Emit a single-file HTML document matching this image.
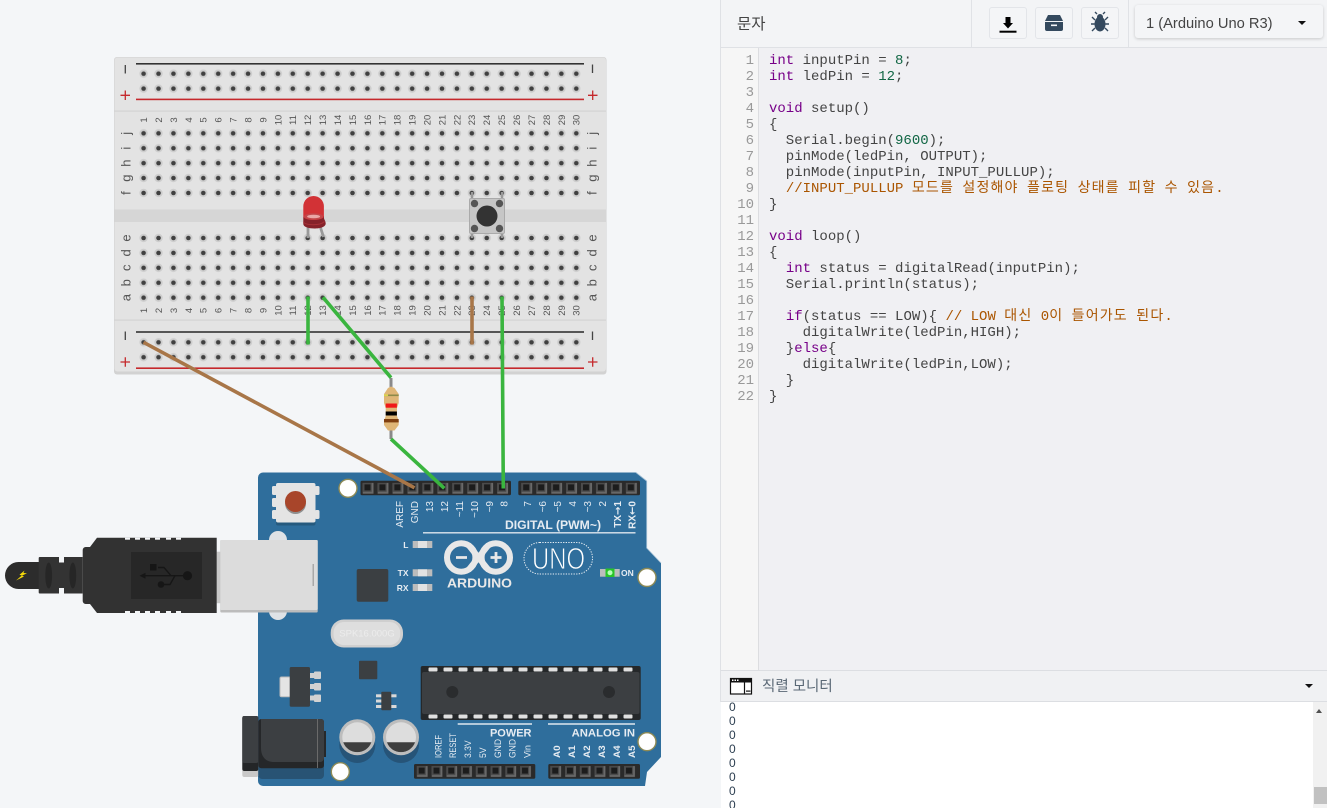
<!DOCTYPE html>
<html lang="ko">
<head>
<meta charset="utf-8">
<title>Arduino Uno circuit</title>
<style>
html,body{margin:0;padding:0;width:1327px;height:808px;overflow:hidden;background:#f4f6f8}
body{position:relative;font-family:"Liberation Sans","Noto Sans CJK KR",sans-serif}
#c{position:absolute;left:0;top:0}
.a{position:absolute;box-sizing:border-box}
pre{margin:0;font:14px/16px "Liberation Mono","WenQuanYi Zen Hei",monospace;color:#444}
.k{color:#708}.n{color:#164}.m{color:#a50}
.h{letter-spacing:1.17px}
.btn{top:7px;height:32px;background:#f4f5f7;border:1px solid #e3e5e9;border-radius:3px}
.bb text{font-size:9.5px;fill:#555;text-anchor:middle}
.lt text{font-size:13px;fill:#555;text-anchor:middle}
.wl text{font-size:10px;fill:#e6ecf2;text-anchor:end}
.wb text{font-size:9.5px;fill:#e6ecf2;text-anchor:start}
</style>
</head>
<body>
<svg id="c" width="720" height="808" viewBox="0 0 720 808" xmlns="http://www.w3.org/2000/svg">
<defs>
<pattern id="h" patternUnits="userSpaceOnUse" width="14.92" height="14.92">
<circle cx="7.46" cy="7.46" r="4.2" fill="#cdcdcd"/>
<circle cx="7.46" cy="7.46" r="2.3" fill="#404040"/>
</pattern>
<pattern id="s" patternUnits="userSpaceOnUse" width="14.95" height="14.7">
<rect x="2.2" y="2" width="10.8" height="10.8" fill="#6a6a6a"/>
<rect x="2.2" y="2" width="9" height="9" fill="#4a4a4a"/>
<rect x="4" y="3.5" width="6" height="6" fill="#1c1c1c"/>
</pattern>
</defs>

<!-- breadboard -->
<rect x="114" y="57" width="492.5" height="317.5" rx="3" fill="#d2d2d2"/>
<rect x="114.5" y="57.5" width="491.5" height="314" rx="3" fill="#e3e3e3"/>
<rect x="114.5" y="209.5" width="491.5" height="12.5" fill="#d6d6d6"/>
<rect x="114.5" y="110.5" width="491.5" height="1.2" fill="#d3d3d3"/>
<rect x="114.5" y="319.5" width="491.5" height="1.2" fill="#d3d3d3"/>
<rect x="136" y="63" width="448" height="1.6" fill="#333"/>
<rect x="136" y="98.6" width="448" height="1.6" fill="#c5282c"/>
<rect x="136" y="331.2" width="448" height="1.6" fill="#333"/>
<rect x="136" y="367.4" width="448" height="1.6" fill="#c5282c"/>
<rect transform="translate(136.14 66.24)" width="447.6" height="29.84" fill="url(#h)"/>
<rect transform="translate(136.14 125.84)" width="447.6" height="74.6" fill="url(#h)"/>
<rect transform="translate(136.14 230.54)" width="447.6" height="74.6" fill="url(#h)"/>
<rect transform="translate(136.14 334.84)" width="447.6" height="29.84" fill="url(#h)"/>

<path d="M125.3 65V73.5M592.5 64.5V73M125.3 331.5V340M592.5 331.5V340" stroke="#444" stroke-width="1.3"/>
<path d="M120.5 95.3H130M125.3 90.5V100M588 95.3H597.5M592.7 90.5V100M120.5 362H130M125.3 357.2V366.8M588 362H597.5M592.7 357.2V366.8" stroke="#c5282c" stroke-width="1.3"/>

<g class="lt">
<text transform="translate(130.5 133.3)rotate(-90)">j</text>
<text transform="translate(130.5 148.2)rotate(-90)">i</text>
<text transform="translate(130.5 163.1)rotate(-90)">h</text>
<text transform="translate(130.5 178.1)rotate(-90)">g</text>
<text transform="translate(130.5 193)rotate(-90)">f</text>
<text transform="translate(130.5 238)rotate(-90)">e</text>
<text transform="translate(130.5 252.9)rotate(-90)">d</text>
<text transform="translate(130.5 267.8)rotate(-90)">c</text>
<text transform="translate(130.5 282.8)rotate(-90)">b</text>
<text transform="translate(130.5 297.7)rotate(-90)">a</text>
<text transform="translate(596.5 133.3)rotate(-90)">j</text>
<text transform="translate(596.5 148.2)rotate(-90)">i</text>
<text transform="translate(596.5 163.1)rotate(-90)">h</text>
<text transform="translate(596.5 178.1)rotate(-90)">g</text>
<text transform="translate(596.5 193)rotate(-90)">f</text>
<text transform="translate(596.5 238)rotate(-90)">e</text>
<text transform="translate(596.5 252.9)rotate(-90)">d</text>
<text transform="translate(596.5 267.8)rotate(-90)">c</text>
<text transform="translate(596.5 282.8)rotate(-90)">b</text>
<text transform="translate(596.5 297.7)rotate(-90)">a</text>
</g>

<g class="bb">
<text transform="translate(147 120)rotate(-90)">1</text><text transform="translate(161.9 120)rotate(-90)">2</text><text transform="translate(176.8 120)rotate(-90)">3</text><text transform="translate(191.8 120)rotate(-90)">4</text><text transform="translate(206.7 120)rotate(-90)">5</text><text transform="translate(221.6 120)rotate(-90)">6</text><text transform="translate(236.5 120)rotate(-90)">7</text><text transform="translate(251.4 120)rotate(-90)">8</text><text transform="translate(266.4 120)rotate(-90)">9</text><text transform="translate(281.3 120)rotate(-90)">10</text><text transform="translate(296.2 120)rotate(-90)">11</text><text transform="translate(311.1 120)rotate(-90)">12</text><text transform="translate(326 120)rotate(-90)">13</text><text transform="translate(341 120)rotate(-90)">14</text><text transform="translate(355.9 120)rotate(-90)">15</text><text transform="translate(370.8 120)rotate(-90)">16</text><text transform="translate(385.7 120)rotate(-90)">17</text><text transform="translate(400.6 120)rotate(-90)">18</text><text transform="translate(415.6 120)rotate(-90)">19</text><text transform="translate(430.5 120)rotate(-90)">20</text><text transform="translate(445.4 120)rotate(-90)">21</text><text transform="translate(460.3 120)rotate(-90)">22</text><text transform="translate(475.2 120)rotate(-90)">23</text><text transform="translate(490.2 120)rotate(-90)">24</text><text transform="translate(505.1 120)rotate(-90)">25</text><text transform="translate(520 120)rotate(-90)">26</text><text transform="translate(534.9 120)rotate(-90)">27</text><text transform="translate(549.8 120)rotate(-90)">28</text><text transform="translate(564.8 120)rotate(-90)">29</text><text transform="translate(579.7 120)rotate(-90)">30</text>
<text transform="translate(147 310.5)rotate(-90)">1</text><text transform="translate(161.9 310.5)rotate(-90)">2</text><text transform="translate(176.8 310.5)rotate(-90)">3</text><text transform="translate(191.8 310.5)rotate(-90)">4</text><text transform="translate(206.7 310.5)rotate(-90)">5</text><text transform="translate(221.6 310.5)rotate(-90)">6</text><text transform="translate(236.5 310.5)rotate(-90)">7</text><text transform="translate(251.4 310.5)rotate(-90)">8</text><text transform="translate(266.4 310.5)rotate(-90)">9</text><text transform="translate(281.3 310.5)rotate(-90)">10</text><text transform="translate(296.2 310.5)rotate(-90)">11</text><text transform="translate(311.1 310.5)rotate(-90)">12</text><text transform="translate(326 310.5)rotate(-90)">13</text><text transform="translate(341 310.5)rotate(-90)">14</text><text transform="translate(355.9 310.5)rotate(-90)">15</text><text transform="translate(370.8 310.5)rotate(-90)">16</text><text transform="translate(385.7 310.5)rotate(-90)">17</text><text transform="translate(400.6 310.5)rotate(-90)">18</text><text transform="translate(415.6 310.5)rotate(-90)">19</text><text transform="translate(430.5 310.5)rotate(-90)">20</text><text transform="translate(445.4 310.5)rotate(-90)">21</text><text transform="translate(460.3 310.5)rotate(-90)">22</text><text transform="translate(475.2 310.5)rotate(-90)">23</text><text transform="translate(490.2 310.5)rotate(-90)">24</text><text transform="translate(505.1 310.5)rotate(-90)">25</text><text transform="translate(520 310.5)rotate(-90)">26</text><text transform="translate(534.9 310.5)rotate(-90)">27</text><text transform="translate(549.8 310.5)rotate(-90)">28</text><text transform="translate(564.8 310.5)rotate(-90)">29</text><text transform="translate(579.7 310.5)rotate(-90)">30</text>
</g>

<!-- LED -->
<path d="M308 226V238M320 226L323.5 237" stroke="#9a9a9a" stroke-width="2.8" fill="none"/>
<path d="M303.3 217V224C303.3 227 309 228.5 314.5 228.5C320 228.5 325.7 227 325.7 223.5C325.7 221 324 219.5 324 218V216z" fill="#86222a"/>
<path d="M303.3 222C306 225.5 320 226 324.5 221.5" fill="none" stroke="#a83238" stroke-width=".9"/>
<path d="M303.3 217V206.3a10.3 10.3 0 0 1 20.6 0V217C321 221 306 221 303.3 217z" fill="#d23236"/>
<ellipse cx="313.6" cy="216.5" rx="9.5" ry="3.2" fill="#c2474b"/>
<ellipse cx="313.6" cy="216.5" rx="6.5" ry="1.8" fill="#eba6a6"/>

<!-- pushbutton -->
<path d="M472 192V198M502 192V198M472 233V238M502 233V238" stroke="#999" stroke-width="2.4"/>
<rect x="469.5" y="198.5" width="35" height="35" rx="1.5" fill="#c6c6c6" stroke="#aaa"/>
<circle cx="487" cy="216" r="10.5" fill="#333"/>
<circle cx="474.5" cy="203.5" r="3.7" fill="#555"/><circle cx="499.5" cy="203.5" r="3.7" fill="#555"/>
<circle cx="474.5" cy="228.5" r="3.7" fill="#555"/><circle cx="499.5" cy="228.5" r="3.7" fill="#555"/>

<!-- Arduino board -->
<path d="M263 472.5H636L646.7 481V548L661 563V757L647 772L645 786H263a5 5 0 0 1-5-5V477.5a5 5 0 0 1 5-5z" fill="#2f6e9c"/>
<path d="M636 472.5L646.7 481V548L661 563" fill="none" stroke="#a9c4d8" stroke-width=".8"/>

<!-- mount holes -->
<g fill="#fff" stroke="#8d8a55" stroke-width="1.4">
<circle cx="348" cy="488.3" r="9"/><circle cx="647" cy="577.5" r="9"/>
<circle cx="647" cy="741.7" r="9"/><circle cx="340.3" cy="771.7" r="9"/>
</g>

<!-- reset button -->
<g fill="#e4e4e4">
<rect x="272" y="486" width="5" height="9" rx="1.5"/><rect x="272" y="498" width="5" height="9" rx="1.5"/><rect x="272" y="510" width="5" height="9" rx="1.5"/>
<rect x="315" y="486" width="4.5" height="9" rx="1.5"/><rect x="315" y="510" width="4.5" height="9" rx="1.5"/>
</g>
<rect x="276" y="486" width="39.5" height="39.5" rx="2" fill="#265a7e"/>
<rect x="276" y="483" width="39.5" height="39.5" rx="2" fill="#e4e4e4"/>
<circle cx="295.5" cy="503.5" r="10.5" fill="#8f8f8f"/>
<circle cx="295.5" cy="501.5" r="10.5" fill="#a8452a"/>

<!-- headers top -->
<rect x="360.5" y="480.7" width="150.5" height="14.5" rx="1.5" fill="#2a2a2a"/>
<rect x="518.3" y="480.7" width="121.7" height="14.5" rx="1.5" fill="#2a2a2a"/>
<rect transform="translate(360.5 480.9)" width="149.5" height="14.7" fill="url(#s)"/>
<rect transform="translate(519.2 480.9)" width="119.6" height="14.7" fill="url(#s)"/>
<!-- headers bottom -->
<rect x="414" y="764" width="121.3" height="14.7" rx="1.5" fill="#2a2a2a"/>
<rect x="548.3" y="764" width="91.7" height="14.7" rx="1.5" fill="#2a2a2a"/>
<rect transform="translate(414.8 764.1)scale(.987 1)" width="119.6" height="14.7" fill="url(#s)"/>
<rect transform="translate(548.3 764.1)scale(.987 1)" width="89.7" height="14.7" fill="url(#s)"/>

<!-- header labels -->
<g class="wl">
<text transform="translate(403 501)rotate(-90)">AREF</text>
<text transform="translate(418 501)rotate(-90)">GND</text>
<text transform="translate(433 501)rotate(-90)">13</text>
<text transform="translate(448 501)rotate(-90)">12</text>
<text transform="translate(463 501)rotate(-90)">~11</text>
<text transform="translate(478 501)rotate(-90)">~10</text>
<text transform="translate(493 501)rotate(-90)">~9</text>
<text transform="translate(507.5 501)rotate(-90)">8</text>
<text transform="translate(531 501)rotate(-90)">7</text>
<text transform="translate(546 501)rotate(-90)">~6</text>
<text transform="translate(561 501)rotate(-90)">~5</text>
<text transform="translate(576 501)rotate(-90)">4</text>
<text transform="translate(591 501)rotate(-90)">~3</text>
<text transform="translate(606 501)rotate(-90)">2</text>
<text transform="translate(621 501)rotate(-90)" font-weight="bold">TX<tspan font-family="DejaVu Sans">→</tspan>1</text>
<text transform="translate(635.5 501)rotate(-90)" font-weight="bold">RX<tspan font-family="DejaVu Sans">←</tspan>0</text>
</g>
<g class="wb">
<text transform="translate(441.5 758)rotate(-90)" textLength="23" lengthAdjust="spacingAndGlyphs">IOREF</text>
<text transform="translate(456 758)rotate(-90)" textLength="25" lengthAdjust="spacingAndGlyphs">RESET</text>
<text transform="translate(471 758)rotate(-90)" textLength="17.6" lengthAdjust="spacingAndGlyphs">3.3V</text>
<text transform="translate(486 758)rotate(-90)" textLength="10.5" lengthAdjust="spacingAndGlyphs">5V</text>
<text transform="translate(501 758)rotate(-90)" textLength="19" lengthAdjust="spacingAndGlyphs">GND</text>
<text transform="translate(515.5 758)rotate(-90)" textLength="19" lengthAdjust="spacingAndGlyphs">GND</text>
<text transform="translate(530.5 758)rotate(-90)" textLength="13" lengthAdjust="spacingAndGlyphs">Vin</text>
<text transform="translate(560 758)rotate(-90)" font-weight="bold" textLength="12.6" lengthAdjust="spacingAndGlyphs">A0</text>
<text transform="translate(575 758)rotate(-90)" font-weight="bold" textLength="12.6" lengthAdjust="spacingAndGlyphs">A1</text>
<text transform="translate(590 758)rotate(-90)" font-weight="bold" textLength="12.6" lengthAdjust="spacingAndGlyphs">A2</text>
<text transform="translate(605 758)rotate(-90)" font-weight="bold" textLength="12.6" lengthAdjust="spacingAndGlyphs">A3</text>
<text transform="translate(620 758)rotate(-90)" font-weight="bold" textLength="12.6" lengthAdjust="spacingAndGlyphs">A4</text>
<text transform="translate(635 758)rotate(-90)" font-weight="bold" textLength="12.6" lengthAdjust="spacingAndGlyphs">A5</text>
</g>
<path d="M423 532.8H635.5M457.7 724H532M548 724H635" stroke="#dfe7ee" stroke-width="1.4"/>
<g font-weight="bold" fill="#e6ecf2" font-size="11.5">
<text x="505" y="529" textLength="96" lengthAdjust="spacingAndGlyphs">DIGITAL (PWM~)</text>
<text x="531.5" y="736.5" text-anchor="end" font-size="11">POWER</text>
<text x="635" y="736.5" text-anchor="end" font-size="11.3">ANALOG IN</text>
</g>

<!-- LEDs L TX RX -->
<g fill="#bcbcbc">
<rect x="412.7" y="541" width="19.6" height="7"/><rect x="412.7" y="569.3" width="19.6" height="7"/><rect x="412.7" y="584" width="19.6" height="7"/>
</g>
<g fill="#e2e2e2">
<rect x="418" y="541" width="9" height="7"/><rect x="418" y="569.3" width="9" height="7"/><rect x="418" y="584" width="9" height="7"/>
</g>
<g fill="#e6ecf2" font-size="8.5" font-weight="bold" text-anchor="end">
<text x="408.5" y="548">L</text><text x="408.5" y="576">TX</text><text x="408.5" y="591">RX</text>
</g>

<!-- logo -->
<g fill="none" stroke="#e8e8e8" stroke-width="6">
<circle cx="461.2" cy="557.5" r="14.2"/><circle cx="495.8" cy="557.5" r="14.2"/>
<path d="M468.5 545Q478.5 557.5 488.5 570M488.5 545Q478.5 557.5 468.5 570"/>
</g>
<path d="M456 557.5H467M490.5 557.5H501.5M496 552V563" stroke="#e8e8e8" stroke-width="2.8"/>
<text x="447" y="587.5" font-size="13" font-weight="bold" fill="#e8e8e8" textLength="65" lengthAdjust="spacingAndGlyphs">ARDUINO</text>
<rect x="524" y="542.5" width="68.5" height="31.5" rx="15.7" fill="none" stroke="#e8eef3" stroke-width="1" stroke-dasharray="1.3 1.3"/>
<text x="532" y="569" font-size="31" fill="#fff" stroke="#2f6e9c" stroke-width=".9" textLength="53" lengthAdjust="spacingAndGlyphs">UNO</text>

<!-- ON led -->
<rect x="600" y="569" width="19.7" height="7.7" fill="#bcbcbc"/>
<rect x="605.5" y="568.5" width="9" height="8.5" fill="#28c428"/>
<circle cx="610" cy="572.7" r="2.5" fill="#b6ffb6"/>
<text x="621" y="576" font-size="8.5" font-weight="bold" fill="#e6ecf2">ON</text>

<!-- USB socket -->
<rect x="269" y="531" width="18" height="89" rx="9" fill="#dfe2e6"/>
<rect x="216.7" y="551.7" width="5" height="51.5" fill="#c8c8c8"/>
<rect x="220.3" y="540" width="97.4" height="72.5" rx="1" fill="#bcbcbc"/>
<rect x="220.3" y="540" width="97.4" height="70" rx="1" fill="#dcdcdc"/>
<rect x="312.5" y="564" width="1.5" height="22" fill="#a8a8a8"/>

<!-- USB plug -->
<path d="M5 575.5a13.5 13.5 0 0 1 13.5-13.5H40V589H18.5A13.5 13.5 0 0 1 5 575.5z" fill="#2c2c2c"/>
<path d="M38.7 558a1 1 0 0 1 1-1H59V562.5H64V557H82.7V593.5H64V588H59V593.5H39.7a1 1 0 0 1-1-1z" fill="#333"/>
<ellipse cx="48.7" cy="575.5" rx="3.4" ry="13" fill="#262626"/>
<ellipse cx="72.8" cy="575.5" rx="3.4" ry="13" fill="#262626"/>
<path d="M82.7 550a3 3 0 0 1 3-3H90L97 537.7H216.7V613H97L90 604H85.7a3 3 0 0 1-3-3z" fill="#323232"/>
<g fill="#f4f6f8">
<rect x="125" y="537.7" width="5" height="2"/><rect x="135" y="537.7" width="5" height="2"/><rect x="145" y="537.7" width="5" height="2"/><rect x="155" y="537.7" width="5" height="2"/><rect x="166" y="537.7" width="5" height="2"/><rect x="176" y="537.7" width="5" height="2"/>
<rect x="125" y="611" width="5" height="2"/><rect x="135" y="611" width="5" height="2"/><rect x="145" y="611" width="5" height="2"/><rect x="155" y="611" width="5" height="2"/><rect x="166" y="611" width="5" height="2"/><rect x="176" y="611" width="5" height="2"/>
</g>
<rect x="131" y="552" width="71" height="47" fill="#272727"/>
<g fill="#161616" stroke="#161616">
<path d="M144 575.7H188" stroke-width="1.4"/>
<path d="M139.5 575.7L145.5 572.7V578.7z" stroke="none"/>
<circle cx="187.5" cy="575.7" r="4.6" stroke="none"/>
<path d="M158 567.5H164L171 575.7M175 575.7L170 584.5H163" fill="none" stroke-width="1.4"/>
<rect x="150" y="564" width="6.5" height="6.5" stroke="none"/>
<circle cx="161" cy="584.5" r="3.3" stroke="none"/>
</g>
<path d="M24.5 570.5L19.5 574.8L21.8 575.5L16 580.5L24 576.5L22 575.6L27 573.2L23.5 573z" fill="#f5d90a"/>

<!-- crystal, chips -->
<rect x="330.7" y="619.5" width="72.3" height="28" rx="13" fill="#cfcfcf"/>
<rect x="333.5" y="622" width="66.7" height="23" rx="10.5" fill="#dedede"/>
<text x="367" y="636.5" font-size="9.5" fill="#ececec" text-anchor="middle">SPK16.000G</text>
<rect x="356.7" y="569" width="31.6" height="32.7" rx="2" fill="#3b3f42"/>
<rect x="359" y="660.7" width="18.3" height="18.6" rx="1" fill="#3b3f42"/>

<!-- regulator -->
<rect x="280" y="677" width="12" height="19.7" rx="1.5" fill="#e4e4e4" stroke="#bbb"/>
<g fill="#d2d2d2">
<rect x="309" y="673" width="6" height="5"/><rect x="309" y="684" width="6" height="5"/><rect x="309" y="695.5" width="6" height="5"/>
<rect x="314" y="671.5" width="7" height="7.5" rx="1"/><rect x="314" y="683" width="7" height="7.5" rx="1"/><rect x="314" y="694.5" width="7" height="7.5" rx="1"/>
</g>
<rect x="289.7" y="667" width="20.3" height="39.7" rx="1.5" fill="#3b3f42"/>

<!-- small IC -->
<g fill="#d9d9d9">
<rect x="376" y="694.3" width="6" height="3"/><rect x="376" y="699.5" width="6" height="3"/><rect x="376" y="705" width="6" height="3"/>
<rect x="391" y="694.3" width="5.5" height="3"/><rect x="391" y="705" width="5.5" height="3"/>
</g>
<rect x="381.3" y="691.7" width="10" height="18.6" rx="1" fill="#3b3f42"/>

<!-- barrel jack -->
<rect x="242.3" y="760" width="16" height="17" rx="2" fill="#c8c8c8"/>
<rect x="258.3" y="750" width="65.7" height="29" rx="4" fill="#285374"/>
<rect x="258.3" y="719" width="65.7" height="49.3" rx="3" fill="#252729"/>
<path d="M261 719H321a3 3 0 0 1 3 3V758a4 4 0 0 1-4 4H274C266 762 261 757 261 748z" fill="#3c3f42"/>
<rect x="317" y="719" width="1" height="49" fill="#6a6a6a"/>
<rect x="324" y="731" width="2" height="26" fill="#26282a"/>
<rect x="242.3" y="716" width="16" height="55" rx="2" fill="#242628"/>
<rect x="242.3" y="716" width="16" height="47" rx="2" fill="#3c3f42"/>

<!-- capacitors -->
<circle cx="357.3" cy="745" r="18" fill="#265478"/>
<circle cx="401" cy="745" r="18" fill="#265478"/>
<circle cx="357.3" cy="737.3" r="18" fill="#bdbdbd"/>
<circle cx="401" cy="737.3" r="18" fill="#bdbdbd"/>
<circle cx="357.3" cy="737.3" r="15" fill="#dddddd"/>
<circle cx="401" cy="737.3" r="15" fill="#dddddd"/>
<path d="M343.2 742.3A15 15 0 0 0 371.4 742.3z" fill="#3e3e3e"/>
<path d="M386.9 742.3A15 15 0 0 0 415.1 742.3z" fill="#3e3e3e"/>

<!-- ATmega -->
<rect x="420.7" y="666" width="220" height="54" rx="2" fill="#25282a"/>
<rect x="422" y="672" width="217.5" height="42" rx="2" fill="#3c3f42"/>
<g fill="#e0e0e0">
<rect x="428.5" y="667.5" width="9" height="4" rx="1"/><rect x="443.5" y="667.5" width="9" height="4" rx="1"/><rect x="458.5" y="667.5" width="9" height="4" rx="1"/><rect x="473.5" y="667.5" width="9" height="4" rx="1"/><rect x="488.5" y="667.5" width="9" height="4" rx="1"/><rect x="503.5" y="667.5" width="9" height="4" rx="1"/><rect x="518.5" y="667.5" width="9" height="4" rx="1"/><rect x="533.5" y="667.5" width="9" height="4" rx="1"/><rect x="548.5" y="667.5" width="9" height="4" rx="1"/><rect x="563.5" y="667.5" width="9" height="4" rx="1"/><rect x="578.5" y="667.5" width="9" height="4" rx="1"/><rect x="593.5" y="667.5" width="9" height="4" rx="1"/><rect x="608.5" y="667.5" width="9" height="4" rx="1"/><rect x="623.5" y="667.5" width="9" height="4" rx="1"/>
<rect x="428.5" y="714.5" width="9" height="4" rx="1"/><rect x="443.5" y="714.5" width="9" height="4" rx="1"/><rect x="458.5" y="714.5" width="9" height="4" rx="1"/><rect x="473.5" y="714.5" width="9" height="4" rx="1"/><rect x="488.5" y="714.5" width="9" height="4" rx="1"/><rect x="503.5" y="714.5" width="9" height="4" rx="1"/><rect x="518.5" y="714.5" width="9" height="4" rx="1"/><rect x="533.5" y="714.5" width="9" height="4" rx="1"/><rect x="548.5" y="714.5" width="9" height="4" rx="1"/><rect x="563.5" y="714.5" width="9" height="4" rx="1"/><rect x="578.5" y="714.5" width="9" height="4" rx="1"/><rect x="593.5" y="714.5" width="9" height="4" rx="1"/><rect x="608.5" y="714.5" width="9" height="4" rx="1"/><rect x="623.5" y="714.5" width="9" height="4" rx="1"/>
</g>
<circle cx="452.3" cy="692" r="6" fill="#2a2c2e"/><circle cx="609" cy="692" r="6" fill="#2a2c2e"/>

<!-- resistor -->
<path d="M391 378V439" stroke="#8a8a8a" stroke-width="3"/>
<path d="M388 388L391 386.5L394.5 388L398.7 394V403L397 408V416L398.7 421V425L394.5 430.5H388L384 425V421L385.7 416V408L384 403V394z" fill="#dfb677"/>
<rect x="384" y="394.5" width="14.7" height="1.6" fill="#8d8a4a"/>
<rect x="384" y="394.5" width="4" height="1.6" fill="#d8d84a"/>
<rect x="385.7" y="403.5" width="11.2" height="4.2" fill="#f01818"/>
<rect x="385.7" y="411.5" width="11.2" height="4" fill="#000"/>
<rect x="384" y="419" width="14.7" height="3.4" fill="#7f3f10"/>

<!-- wires -->
<g fill="none">
<path d="M143.5 342.3L414.5 487.8" stroke="#a87648" stroke-width="3.6"/>
<path d="M472 296.5V344.5" stroke="#a87648" stroke-width="3.6"/>
<path d="M308 296.5V344.5M323 297.3L391 377.7M391 439L444.3 488.3M502 296.5L503.3 488.5" stroke="#3ab53f" stroke-width="3.6"/>
</g>
</svg>

<!-- header -->
<div class="a" style="left:720px;top:0;width:607px;height:48px;background:#f3f4f6;border-left:1px solid #dfe1e5;border-bottom:1px solid #dfe1e5"></div>
<div class="a" style="left:971px;top:0;width:1px;height:47px;background:#e0e2e6"></div>
<div class="a" style="left:1128px;top:0;width:1px;height:47px;background:#e0e2e6"></div>
<div class="a" style="left:737px;top:16px;font-size:15.5px;line-height:18px;color:#444">문자</div>

<div class="a btn" style="left:989px;width:38px"></div>
<div class="a btn" style="left:1035px;width:38px"></div>
<div class="a btn" style="left:1081px;width:38px"></div>
<svg class="a" style="left:989px;top:7px" width="130" height="32" viewBox="0 0 130 32">
<path d="M16.5 10H21.5V16H24L19 21.5L14 16H16.5z" fill="#000"/><rect x="10.5" y="23.7" width="17" height="2"/>
<path d="M59 8H71L74 14H56z" fill="#34495e"/>
<path d="M56 15H74V22a2 2 0 0 1-2 2H58a2 2 0 0 1-2-2z" fill="#34495e"/>
<rect x="62" y="17.5" width="6" height="1.6" fill="#f4f5f7"/>
<ellipse cx="111" cy="17" rx="5.5" ry="7.5" fill="#34495e"/>
<circle cx="111" cy="10" r="3" fill="#34495e"/>
<path d="M108 7L106 5M114 7L116 5M106 13L103 10M116 13L119 10M105.5 17H102M116.5 17H120M106 21L103 24M116 21L119 24" stroke="#34495e" stroke-width="1.4" fill="none"/>
</svg>
<div class="a" style="left:1135px;top:5px;width:188px;height:33px;background:#f4f5f7;border-radius:3px;box-shadow:0 1px 3px rgba(0,0,0,.18)"></div>
<div class="a" style="left:1146px;top:15px;font-size:14.7px;line-height:18px;color:#444;white-space:nowrap">1 (Arduino Uno R3)</div>
<div class="a" style="left:1298px;top:21px;width:0;height:0;border-left:4.5px solid transparent;border-right:4.5px solid transparent;border-top:4.5px solid #111"></div>

<!-- editor -->
<div class="a" style="left:720px;top:48px;width:607px;height:622px;background:#f0f0f3;border-left:1px solid #dfe1e5"></div>
<div class="a" style="left:721px;top:48px;width:38px;height:622px;background:#f6f6f6;border-right:1px solid #dcdde0"></div>
<pre class="a" style="left:721px;top:53px;width:33px;text-align:right;color:#999">1
2
3
4
5
6
7
8
9
10
11
12
13
14
15
16
17
18
19
20
21
22</pre>
<pre class="a" style="left:769px;top:53px">
<span class="k">int</span> inputPin = <span class="n">8</span>;
<span class="k">int</span> ledPin = <span class="n">12</span>;

<span class="k">void</span> setup()
{
  Serial.begin(<span class="n">9600</span>);
  pinMode(ledPin, OUTPUT);
  pinMode(inputPin, INPUT_PULLUP);
  <span class="m">//INPUT_PULLUP <span class="h">모드를</span> <span class="h">설정해야</span> <span class="h">플로팅</span> <span class="h">상태를</span> <span class="h">피할</span> <span class="h">수</span> <span class="h">있음</span>.</span>
}

<span class="k">void</span> loop()
{
  <span class="k">int</span> status = digitalRead(inputPin);
  Serial.println(status);

  <span class="k">if</span>(status == LOW){ <span class="m">// LOW <span class="h">대신</span> 0<span class="h">이</span> <span class="h">들어가도</span> <span class="h">된다</span>.</span>
    digitalWrite(ledPin,HIGH);
  }<span class="k">else</span>{
    digitalWrite(ledPin,LOW);
  }
}</pre>

<!-- serial monitor -->
<div class="a" style="left:720px;top:670px;width:607px;height:32px;background:#f0f1f3;border-left:1px solid #dfe1e5;border-top:1px solid #dcdee2;border-bottom:1px solid #dcdee2"></div>
<svg class="a" style="left:729px;top:677px" width="24" height="18" viewBox="0 0 24 18">
<rect x="1.5" y="1.5" width="21" height="15.5" fill="#fff" stroke="#111" stroke-width="1.2"/>
<rect x="1" y="1" width="22" height="4.5" fill="#111"/>
<rect x="3" y="2.5" width="1.5" height="1.5" fill="#fff"/><rect x="5.5" y="2.5" width="1.5" height="1.5" fill="#fff"/><rect x="8" y="2.5" width="1.5" height="1.5" fill="#fff"/>
<path d="M15.5 5.5V17" stroke="#111" stroke-width="1.2"/>
<rect x="17" y="13.5" width="4.5" height="1.2" fill="#111"/>
</svg>
<div class="a" style="left:762px;top:678px;font-size:14.5px;line-height:18px;color:#5a6875;white-space:nowrap">직렬 모니터</div>
<div class="a" style="left:1305px;top:684px;width:0;height:0;border-left:4px solid transparent;border-right:4px solid transparent;border-top:4.5px solid #111"></div>

<div class="a" style="left:721px;top:702px;width:592px;height:106px;background:#fff;overflow:hidden">
<div style="position:absolute;left:8px;top:-2px;font-size:12px;line-height:14px;color:#2c3e50">0<br>0<br>0<br>0<br>0<br>0<br>0<br>0</div>
</div>
<div class="a" style="left:1313px;top:702px;width:14px;height:106px;background:#f1f1f1"></div>
<div class="a" style="left:1315.5px;top:709px;width:0;height:0;border-left:3.5px solid transparent;border-right:3.5px solid transparent;border-bottom:4px solid #505050"></div>
<div class="a" style="left:1314px;top:787px;width:13px;height:17px;background:#c1c1c1"></div>
</body>
</html>
